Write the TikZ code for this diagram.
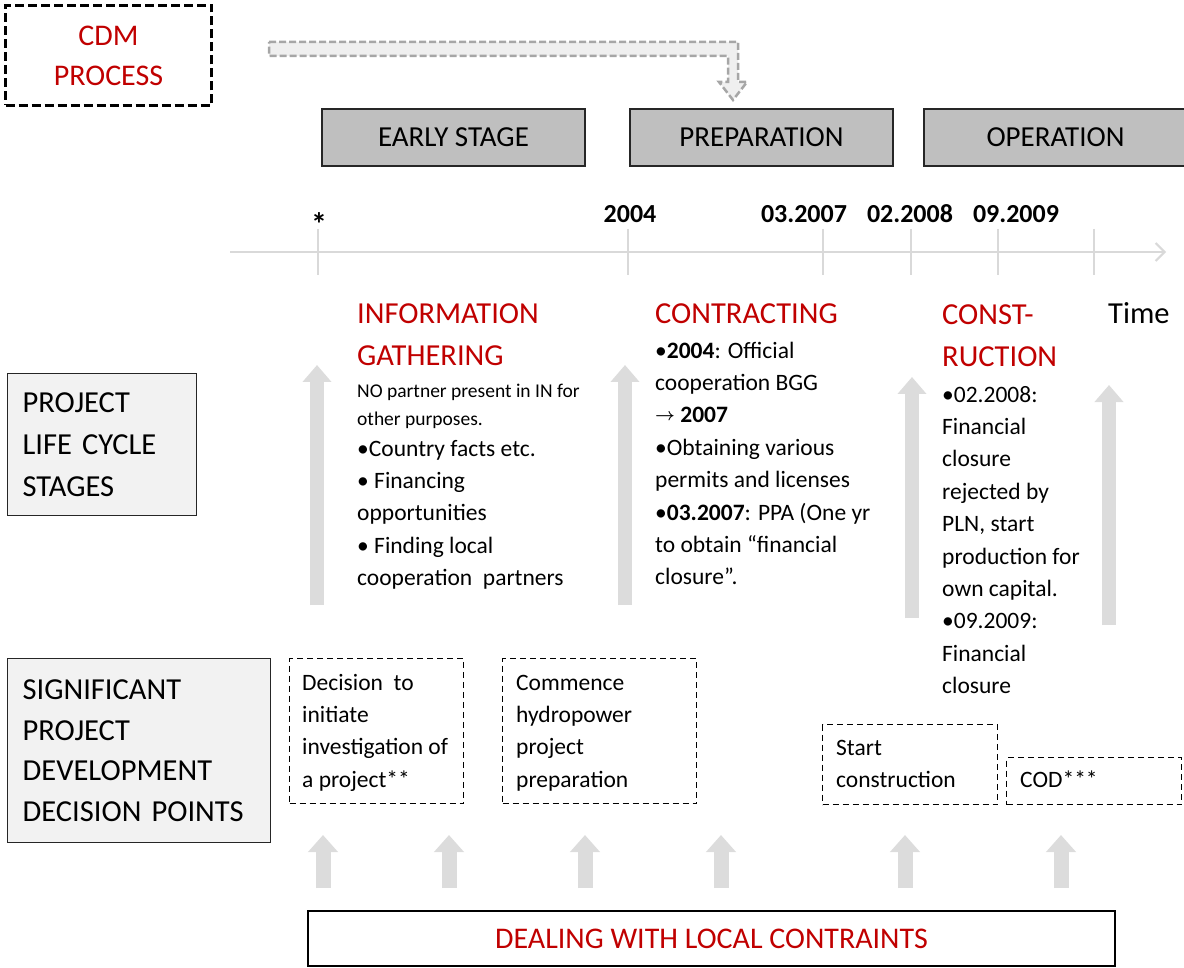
\documentclass[tikz,border=0pt]{standalone}
\usepackage{fontspec}
\setmainfont{Carlito}
\usetikzlibrary{arrows.meta}
\definecolor{cdmred}{HTML}{C00000}
\definecolor{stagegray}{HTML}{BFBFBF}
\definecolor{panelgray}{HTML}{F2F2F2}
\definecolor{arrowgray}{HTML}{DCDCDC}
\definecolor{axisgray}{HTML}{D9D9D9}
\definecolor{dashgray}{HTML}{A6A6A6}
\definecolor{flowfill}{HTML}{EFEFEF}
\newcommand{\fsz}[2]{\fontsize{#1}{#2}\selectfont}
\newcommand{\leadsarrow}{\raisebox{2pt}{\fontsize{17}{20}\selectfont$\boldsymbol{\rightarrow}$}}
\providecommand{\boldsymbol}[1]{\mbox{\boldmath$#1$}}

\begin{document}
\begin{tikzpicture}[x=1pt,y=-1pt,
  cdmbox/.style={draw=black, line width=3pt, dash pattern=on 9pt off 4pt,
    anchor=north west, minimum width=206pt, minimum height=100pt, inner sep=0pt,
    align=center, text=cdmred, font=\fsz{30}{40}},
  flowarrow/.style={draw=dashgray, fill=flowfill, line width=2.5pt,
    dash pattern=on 7pt off 3pt},
  stagebox/.style={draw=black!85, line width=1.3pt, fill=stagegray,
    minimum width=263pt, minimum height=57pt, inner sep=0pt, font=\fsz{29}{35}},
  panelbox/.style={draw=black!85, line width=1.3pt, fill=panelgray, anchor=north west,
    inner xsep=15pt, inner ysep=0pt, align=left},
  decbox/.style={draw=black, line width=1.2pt, dash pattern=on 6pt off 4pt,
    anchor=north west, inner sep=0pt},
  basebox/.style={draw=black, line width=1.3pt, minimum width=807pt, minimum height=55pt,
    inner sep=0pt, text=cdmred, font=\fsz{30}{36}},
  txt/.style={inner sep=0pt, anchor=north west, align=left},
  title/.style={txt, text=cdmred, font=\fsz{30.5}{42}},
  body/.style={txt, font=\fsz{23.5}{32.4}},
  date/.style={inner sep=0pt, anchor=base, font=\fsz{26}{30}\bfseries},
  axis/.style={draw=axisgray, line width=2pt},
  tick/.style={draw=axisgray, line width=1.5pt},
  bigarrow/.style={draw=arrowgray, line width=14pt, -{Triangle[length=17pt,width=28pt]}},
  smallarrow/.style={draw=arrowgray, line width=15pt, -{Triangle[length=17pt,width=29pt]}}
]
\useasboundingbox (0,0) rectangle (1184,968);

% CDM process box and its flow arrow towards the preparation stage
\node[cdmbox] (cdm) at (4,4) {CDM\\PROCESS};
\draw[flowarrow] (269,42) -- (738,42) -- (738,82) -- (747,82) -- (733,100)
  -- (719,82) -- (728,82) -- (728,56) -- (269,56) -- cycle;

% stage headers
\node[stagebox] (early) at (453.5,137.5) {EARLY STAGE};
\node[stagebox] (prep)  at (761.5,137.5) {PREPARATION};
\node[stagebox] (oper)  at (1055.5,137.5) {OPERATION};

% time axis
\coordinate (ax0) at (230,252);
\coordinate (ax1) at (1166,252);
\draw[axis, -{Straight Barb[length=9pt,width=18pt]}] (ax0) -- (ax1);
\foreach \tx/\tn in {318/a,628/b,823/c,911/d,998/e,1094/f}{
  \coordinate (tk\tn0) at (\tx,229);
  \coordinate (tk\tn1) at (\tx,275);
  \draw[tick] (tk\tn0) -- (tk\tn1);
}
\node[date, font=\fsz{32}{36}\bfseries] (dstar) at (319,236) {*};
\node[date] (d2004) at (630,223) {2004};
\node[date] (d2007) at (804,223) {03.2007};
\node[date] (d2008) at (910,223) {02.2008};
\node[date] (d2009) at (1016,223) {09.2009};

% row labels
\node[panelbox, text width=159pt, minimum height=142pt, font=\fsz{30.5}{42}]
  (lifecycle) at (7,373) {PROJECT\\LIFE CYCLE\\STAGES};
\node[panelbox, text width=233pt, minimum height=184pt, font=\fsz{30.5}{40.7}]
  (decisions) at (7,658) {SIGNIFICANT\\PROJECT\\DEVELOPMENT\\DECISION POINTS};

% life cycle arrows
\coordinate (ua1b) at (317,605);  \coordinate (ua1t) at (317,365);
\coordinate (ua2b) at (625,605);  \coordinate (ua2t) at (625,365);
\coordinate (ua3b) at (912,618);  \coordinate (ua3t) at (912,377);
\coordinate (ua4b) at (1109,625); \coordinate (ua4t) at (1109,385);
\draw[bigarrow] (ua1b) -- (ua1t);
\draw[bigarrow] (ua2b) -- (ua2t);
\draw[bigarrow] (ua3b) -- (ua3t);
\draw[bigarrow] (ua4b) -- (ua4t);

% information gathering
\node[title] (infoh) at (357,293.6) {\strut INFORMATION\\GATHERING};
\node[txt, font=\fsz{19.5}{28}] (infonote) at (357,377.4)
  {\strut NO partner present in IN for\\other purposes.};
\node[body] (infolist) at (357,433.3)
  {\strut •Country facts etc.\\• Financing\\opportunities\\• Finding local\\cooperation~~partners};

% contracting
\node[title] (conth) at (655,293.6) {\strut CONTRACTING};
\node[body] (contlist) at (655,335.3)
  {\strut •\textbf{2004}: Official\\cooperation BGG\\\leadsarrow~\textbf{2007}\\
   •Obtaining various\\permits and licenses\\•\textbf{03.2007}: PPA (One yr\\
   to obtain “financial\\closure”.};

% construction
\node[title] (consh) at (942,294.6) {\strut CONST-\\RUCTION};
\node[body] (conslist) at (942,379.3)
  {\strut •02.2008:\\Financial\\closure\\rejected by\\PLN, start\\production for\\
   own capital.\\•09.2009:\\Financial\\closure};

\node[inner sep=0pt, anchor=base west, font=\fsz{30.5}{42}] (time) at (1108,324) {Time};

% decision points
\node[decbox, minimum width=174pt, minimum height=145pt] (dec1) at (289,658) {};
\node[body] (dec1t) at (302,667.3) {\strut Decision~~to\\initiate\\investigation of\\a project**};
\node[decbox, minimum width=194pt, minimum height=145pt] (dec2) at (502,658) {};
\node[body] (dec2t) at (516,667.3) {\strut Commence\\hydropower\\project\\preparation};
\node[decbox, minimum width=175pt, minimum height=80pt] (dec3) at (822,724) {};
\node[body] (dec3t) at (836,732.3) {\strut Start\\construction};
\node[decbox, minimum width=175pt, minimum height=47pt] (dec4) at (1006,757) {};
\node[body] (dec4t) at (1020,764.3) {\strut COD***};

% local constraints
\node[basebox] (local) at (711.5,938.5) {DEALING WITH LOCAL CONTRAINTS};
\foreach \ax/\an in {323/1,449/2,585/3,721/4,905/5,1061/6}{
  \coordinate (la\an b) at (\ax,888);
  \coordinate (la\an t) at (\ax,835);
  \draw[smallarrow] (la\an b) -- (la\an t);
}
\end{tikzpicture}
\end{document}
